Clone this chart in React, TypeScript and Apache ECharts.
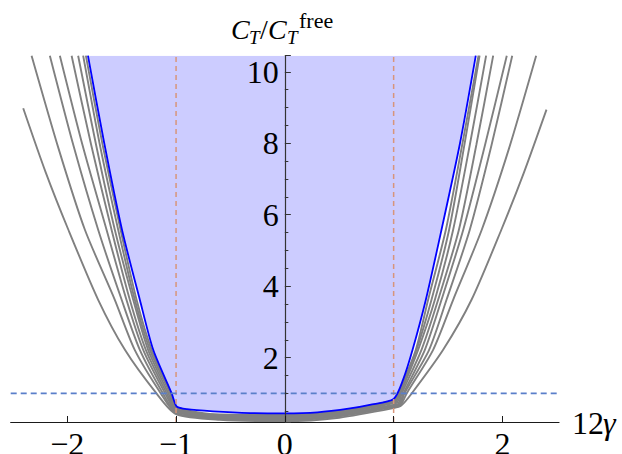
import React, { useEffect, useRef } from 'react';
import * as echarts from 'echarts';

// Axis settings
const xRange = [-2.52, 2.52];
const yRange = [0.2, 10.45];
const xTicks = [-2, -1, 0, 1, 2];
const yTickLabels = [2, 4, 6, 8, 10];
const refVerticalX = [-1, 1];
const refHorizontalY = 1;

// Boundary curve (blue) of shaded region
const blueCurve: number[][] = [
  [-1.81, 10.45], [-1.66, 8.0], [-1.497, 5.58], [-1.333, 3.62], [-1.21, 2.22],
  [-1.04, 1.0], [-0.995, 0.64], [-0.9, 0.56], [-0.66, 0.5], [-0.32, 0.45],
  [0, 0.44], [0.3, 0.47], [0.6, 0.58], [0.78, 0.68], [1.0, 0.845],
  [1.087, 1.385], [1.174, 2.22], [1.296, 3.62], [1.44, 5.58], [1.61, 8.0], [1.755, 10.45],
];

// Gray curves (outermost first)
const grayCurve0: number[][] = [
  [-2.405, 8.98], [-2.2, 7.2], [-1.99, 5.58], [-1.716, 3.62], [-1.47, 2.22], [-1.18, 1.0],
  [-1.0, 0.42], [-0.6, 0.26], [0, 0.22], [0.5, 0.32], [1.0, 0.59], [1.07, 0.66],
  [1.164, 0.99], [1.455, 2.22], [1.716, 3.62], [1.99, 5.58], [2.2, 7.2], [2.405, 8.94],
];
const grayCurve1: number[][] = [
  [-2.328, 10.45], [-2.08, 7.85], [-1.838, 5.58], [-1.563, 3.62], [-1.38, 2.22], [-1.14, 1.0],
  [-1.0, 0.45], [-0.6, 0.29], [0, 0.25], [0.5, 0.36], [1.0, 0.62], [1.065, 0.68],
  [1.12, 1.0], [1.363, 2.22], [1.547, 3.62], [1.81, 5.58], [2.06, 7.85], [2.31, 10.45],
];
const grayCurve2: number[][] = [
  [-2.16, 10.45], [-1.94, 7.9], [-1.716, 5.58], [-1.5, 3.62], [-1.333, 2.22], [-1.12, 1.0],
  [-1.0, 0.48], [-0.6, 0.31], [0, 0.28], [0.5, 0.39], [1.0, 0.65], [1.06, 0.7],
  [1.1, 1.0], [1.326, 2.22], [1.486, 3.62], [1.7, 5.58], [1.9, 7.95], [2.09, 10.45],
];
const grayCurve3: number[][] = [
  [-2.068, 10.45], [-1.86, 7.95], [-1.639, 5.58], [-1.456, 3.62], [-1.302, 2.22], [-1.1, 1.0],
  [-1.0, 0.52], [-0.6, 0.33], [0, 0.31], [0.5, 0.42], [1.0, 0.68], [1.055, 0.72],
  [1.09, 1.0], [1.287, 2.22], [1.44, 3.62], [1.64, 5.58], [1.84, 7.95], [2.04, 10.45],
];
const grayCurve4: number[][] = [
  [-1.96, 10.45], [-1.78, 7.95], [-1.593, 5.58], [-1.425, 3.62], [-1.278, 2.22], [-1.085, 1.0],
  [-1.0, 0.55], [-0.6, 0.35], [0, 0.34], [0.5, 0.45], [1.0, 0.72], [1.05, 0.76],
  [1.075, 1.0], [1.256, 2.22], [1.409, 3.62], [1.6, 5.58], [1.76, 7.95], [1.915, 10.45],
];
const grayCurve5: number[][] = [
  [-1.9, 10.45], [-1.735, 7.95], [-1.563, 5.58], [-1.394, 3.62], [-1.257, 2.22], [-1.07, 1.0],
  [-1.0, 0.58], [-0.6, 0.37], [0, 0.36], [0.5, 0.47], [1.0, 0.75], [1.04, 0.79],
  [1.065, 1.0], [1.225, 2.22], [1.379, 3.62], [1.547, 5.58], [1.7, 7.95], [1.85, 10.45],
];
const grayCurve6: number[][] = [
  [-1.854, 10.45], [-1.7, 7.95], [-1.532, 5.58], [-1.379, 3.62], [-1.24, 2.22], [-1.055, 1.0],
  [-1.0, 0.6], [-0.6, 0.39], [0, 0.38], [0.5, 0.49], [1.0, 0.78], [1.03, 0.82],
  [1.055, 1.0], [1.21, 2.22], [1.348, 3.62], [1.51, 5.58], [1.65, 7.95], [1.79, 10.45],
];
const grayCurve7: number[][] = [
  [-1.829, 10.45], [-1.675, 7.95], [-1.51, 5.58], [-1.363, 3.62], [-1.225, 2.22], [-1.045, 1.0],
  [-1.0, 0.62], [-0.6, 0.41], [0, 0.4], [0.5, 0.51], [1.0, 0.8], [1.02, 0.84],
  [1.045, 1.0], [1.204, 2.22], [1.317, 3.62], [1.48, 5.58], [1.63, 7.95], [1.78, 10.45],
];
const grayCurves = [grayCurve0, grayCurve1, grayCurve2, grayCurve3, grayCurve4, grayCurve5, grayCurve6, grayCurve7];

const SERIF = '"Liberation Serif", "DejaVu Serif", serif';

const GRID_LEFT = 10.7;
const GRID_RIGHT = 63;
const W = 622;

function fmtNum(v: number): string {
  return v < 0 ? '\u2212' + String(-v) : String(v);
}

export default function App() {
  const ref = useRef<HTMLDivElement>(null);
  useEffect(() => {
    if (!ref.current) return;
    const chart = echarts.init(ref.current, undefined, { renderer: 'svg' });
    const SMOOTH = 0.25;
    // y axis sits at x = 0: shift it right from the grid's left edge
    const plotW = W - GRID_LEFT - GRID_RIGHT;
    const yAxisShift = ((0 - xRange[0]) / (xRange[1] - xRange[0])) * plotW;
    const series: any[] = [
      {
        type: 'line', data: blueCurve, symbol: 'none', smooth: SMOOTH,
        lineStyle: { width: 0, opacity: 0 },
        areaStyle: { color: '#CCCCFF', opacity: 1, origin: 'end' },
        z: 1, silent: true,
      },
      ...grayCurves.map((c) => ({
        type: 'line', data: c, symbol: 'none', smooth: SMOOTH,
        lineStyle: { color: '#808080', width: 1.9 }, z: 2, silent: true,
      })),
      {
        type: 'line', data: blueCurve, symbol: 'none', smooth: SMOOTH,
        lineStyle: { color: '#0000FF', width: 1.8 }, z: 3, silent: true,
      },
      ...refVerticalX.map((xv) => ({
        type: 'line', data: [[xv, yRange[0]], [xv, yRange[1]]], symbol: 'none',
        lineStyle: { color: '#D8957A', width: 1.5, type: [5, 4] }, z: 4, silent: true,
      })),
      {
        type: 'line', data: [[xRange[0], refHorizontalY], [xRange[1], refHorizontalY]], symbol: 'none',
        lineStyle: { color: '#5A7FCA', width: 1.8, type: [6, 4] }, z: 4, silent: true,
      },
    ];
    chart.setOption({
      animation: false,
      grid: { left: GRID_LEFT, right: GRID_RIGHT, top: 55.7, bottom: 32, containLabel: false, outerBoundsMode: 'none' },
      xAxis: {
        type: 'value', min: xRange[0], max: xRange[1], z: 10,
        splitLine: { show: false },
        axisLine: { show: true, onZero: false, lineStyle: { color: '#1a1a1a', width: 1.2 } },
        axisTick: { show: true, inside: true, length: 6, customValues: xTicks, lineStyle: { color: '#1a1a1a', width: 1 } },
        axisLabel: {
          customValues: xTicks, formatter: (v: number) => fmtNum(v), margin: 6,
          fontSize: 32, fontFamily: SERIF, color: '#000',
        },
      },
      yAxis: {
        type: 'value', min: yRange[0], max: yRange[1], splitNumber: 5, z: 10,
        offset: -yAxisShift,
        splitLine: { show: false },
        axisLine: { show: true, onZero: false, lineStyle: { color: '#333', width: 1.2 } },
        axisTick: { show: true, inside: true, length: 6, lineStyle: { color: '#333', width: 1 } },
        minorTick: { show: true, splitNumber: 4, length: 3.5, lineStyle: { color: '#333', width: 1 } },
        axisLabel: {
          margin: 6, fontSize: 32, fontFamily: SERIF, color: '#000',
          showMinLabel: false, showMaxLabel: false,
          formatter: (v: number) => (yTickLabels.some((t) => Math.abs(t - v) < 1e-9) ? String(v) : ''),
        },
      },
      graphic: [
        { type: 'text', x: 231, y: 29, style: { text: 'C', fontSize: 28, fontStyle: 'italic', fontFamily: SERIF, fill: '#000', align: 'left', verticalAlign: 'middle' } },
        { type: 'text', x: 249, y: 37, style: { text: 'T', fontSize: 19, fontStyle: 'italic', fontFamily: SERIF, fill: '#000', align: 'left', verticalAlign: 'middle' } },
        { type: 'text', x: 260, y: 29, style: { text: '/', fontSize: 28, fontFamily: SERIF, fill: '#000', align: 'left', verticalAlign: 'middle' } },
        { type: 'text', x: 268, y: 29, style: { text: 'C', fontSize: 28, fontStyle: 'italic', fontFamily: SERIF, fill: '#000', align: 'left', verticalAlign: 'middle' } },
        { type: 'text', x: 287, y: 37, style: { text: 'T', fontSize: 19, fontStyle: 'italic', fontFamily: SERIF, fill: '#000', align: 'left', verticalAlign: 'middle' } },
        { type: 'text', x: 299, y: 20, style: { text: 'free', fontSize: 22, fontFamily: SERIF, fill: '#000', align: 'left', verticalAlign: 'middle' } },
        { type: 'text', x: 572, y: 423, style: { text: '12', fontSize: 32, fontFamily: SERIF, fill: '#000', align: 'left', verticalAlign: 'middle' } },
        { type: 'text', x: 603, y: 423, style: { text: '\u03B3', fontSize: 32, fontStyle: 'italic', fontFamily: SERIF, fill: '#000', align: 'left', verticalAlign: 'middle' } },
      ],
      series,
    });
    return () => chart.dispose();
  }, []);
  return (
    <div
      ref={ref}
      style={{ position: 'fixed', left: 0, top: 0, width: 622, height: 454, background: '#fff' }}
    />
  );
}
